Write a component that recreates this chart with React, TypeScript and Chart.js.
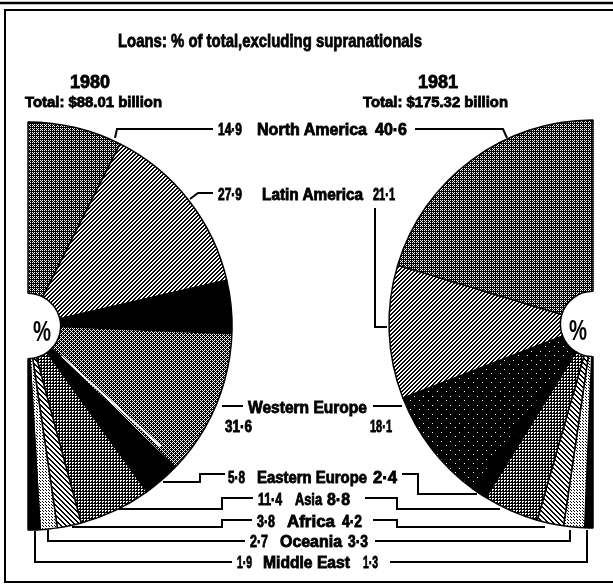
import React, { useEffect, useRef } from 'react';
import { Chart, registerables } from 'chart.js';

Chart.register(...registerables);

// ---------- data ----------
const regions = ['North America', 'Latin America', 'Western Europe', 'Eastern Europe', 'Asia', 'Africa', 'Oceania', 'Middle East'];
const share1980 = [14.9, 27.9, 31.6, 5.8, 11.4, 3.8, 2.7, 1.9];
const share1981 = [40.6, 21.1, 18.1, 2.4, 8.8, 4.2, 3.3, 1.3];
const title = 'Loans: % of total,excluding supranationals';
const years = ['1980', '1981'];
const totals = ['Total: $88.01 billion', 'Total: $175.32 billion'];

const fmt = (v: number) => v.toFixed(1).replace('.', '·');

// ---------- layout ----------
const W = 613;
const H = 587;
const R = 204;
const L_CX = 28, L_CY = 326;
const R_CX = 593, R_CY = 324;

type Pt = [number, number];

function tile(ctx: CanvasRenderingContext2D, w: number, h: number, bg: string, fg: string, pts: Pt[]) {
  const c = document.createElement('canvas');
  c.width = w; c.height = h;
  const g = c.getContext('2d')!;
  g.fillStyle = bg; g.fillRect(0, 0, w, h);
  g.fillStyle = fg;
  pts.forEach(([x, y]) => g.fillRect(x, y, 1, 1));
  return ctx.createPattern(c, 'repeat')!;
}

function stripes(ctx: CanvasRenderingContext2D, n: number, on: number, dir: number, bg: string, fg: string) {
  const pts: Pt[] = [];
  for (let y = 0; y < n; y++) for (let x = 0; x < n; x++) {
    const k = dir > 0 ? (x + y) % n : ((x - y) % n + n) % n;
    if (k < on) pts.push([x, y]);
  }
  return tile(ctx, n, n, bg, fg, pts);
}

function crossPts(n: number): Pt[] {
  const pts: Pt[] = [];
  for (let y = 0; y < n; y++) for (let x = 0; x < n; x++) {
    if (((x - y) % n + n) % n === 0 || (x + y) % n === 2) pts.push([x, y]);
  }
  return pts;
}

function wedgeTexture(ctx: CanvasRenderingContext2D, cx: number, cy: number, a0: number, a1: number) {
  const c = document.createElement('canvas');
  c.width = W; c.height = H;
  const g = c.getContext('2d')!;
  g.fillStyle = '#000'; g.fillRect(0, 0, W, H);
  const grey = tile(g, 4, 4, '#000', '#fff', crossPts(4));
  g.save();
  g.beginPath(); g.moveTo(cx, cy); g.arc(cx, cy, R + 6, a0, a1); g.closePath(); g.clip();
  g.fillStyle = grey; g.fillRect(0, 0, W, H);
  g.restore();
  const as = a1 - 0.03;
  g.strokeStyle = '#fff'; g.lineWidth = 2;
  g.beginPath();
  g.moveTo(cx + Math.cos(as) * 45, cy + Math.sin(as) * 45);
  g.lineTo(cx + Math.cos(as) * (R - 25), cy + Math.sin(as) * (R - 25));
  g.stroke();
  return ctx.createPattern(c, 'no-repeat')!;
}

function fills(ctx: CanvasRenderingContext2D, we: CanvasPattern | string) {
  const na = tile(ctx, 4, 4, '#000', '#fff', [[0, 0], [1, 1], [2, 2], [0, 2], [2, 0]]);
  const la = stripes(ctx, 4, 2, 1, '#fff', '#000');
  const asia = tile(ctx, 3, 3, '#000', '#fff', [[0, 0], [1, 0], [0, 1]]);
  const africa = stripes(ctx, 5, 2, -1, '#fff', '#000');
  const oceania = tile(ctx, 3, 3, '#fff', '#000', [[0, 0], [1, 1]]);
  return [na, la, we, '#000', asia, africa, oceania, '#000'];
}

function makeChart(canvas: HTMLCanvasElement, labels: string[], data: number[], bg: any[], rotation: number, pad: any) {
  return new Chart(canvas, {
    type: 'doughnut',
    data: {
      labels,
      datasets: [{
        data,
        backgroundColor: bg,
        borderColor: '#000',
        borderWidth: 1.5,
        rotation,
        circumference: 180,
        cutout: '16%',
        radius: R,
      } as any],
    },
    options: {
      responsive: false,
      animation: false,
      events: [],
      rotation,
      circumference: 180,
      cutout: '16%',
      radius: R,
      layout: { padding: pad },
      plugins: { legend: { display: false }, tooltip: { enabled: false }, title: { display: false } },
    } as any,
  });
}

const ROWS = [
  { y: 135, lx: 218, lw: 24, nx: 257, nw: 110, rx: 375, rw: 32 },
  { y: 200, lx: 218, lw: 24, nx: 262, nw: 101, rx: 373, rw: 22 },
  { y: 413, ny: 432, lx: 225, lw: 27, nx: 248, nw: 119, rx: 370, rw: 22 },
  { y: 483, lx: 228, lw: 17, nx: 257, nw: 110, rx: 373, rw: 24 },
  { y: 505, lx: 258, lw: 24, nx: 295, nw: 27, rx: 327, rw: 23 },
  { y: 527, lx: 257, lw: 18, nx: 287, nw: 48, rx: 342, rw: 20 },
  { y: 547, lx: 250, lw: 18, nx: 280, nw: 62, rx: 348, rw: 20 },
  { y: 568, lx: 237, lw: 15, nx: 263, nw: 87, rx: 363, rw: 15 },
];

const LEADERS = [
  '213,129 117,129 115,138', '415,129 503,129 507,138',
  '213,193 198,193 190,199', '375,208 375,327 387,327',
  '222,406 243,406', '373,406 402,406',
  '225,474 200,474 200,482 163,482', '402,474 418,474 418,494 477,494',
  '253,498 222,498 222,509 118,509', '365,498 397,498 397,509 500,509',
  '252,520 222,520 222,527 72,527', '373,520 397,520 397,527 545,527',
  '245,541 48,541 48,530', '375,541 570,541 570,530',
  '232,562 35,562 35,531', '390,562 587,562 587,530',
];

function T(props: { x: number; y: number; s: number; w: number; children: string }) {
  return (
    <text x={props.x} y={props.y} fontSize={props.s} textLength={props.w} lengthAdjust="spacingAndGlyphs"
      stroke="#000" strokeWidth={0.8}>
      {props.children}
    </text>
  );
}

export default function App() {
  const leftRef = useRef<HTMLCanvasElement>(null);
  const rightRef = useRef<HTMLCanvasElement>(null);

  useEffect(() => {
    const charts: Chart[] = [];
    const lc = leftRef.current!, rc = rightRef.current!;
    const lctx = lc.getContext('2d')!, rctx = rc.getContext('2d')!;

    const tot80 = share1980.reduce((a, b) => a + b, 0);
    const weStart = (share1980[0] + share1980[1]) / tot80;
    const weEnd = weStart + share1980[2] / tot80;
    const span = weEnd - weStart;
    const ang = (f: number) => -Math.PI / 2 + f * Math.PI;
    const we80 = wedgeTexture(lctx, L_CX, L_CY, ang(weStart + 0.27 * span), ang(weEnd));
    const we81 = tile(rctx, 9, 9, '#000', '#fff', [[0, 0], [5, 4]]);

    charts.push(makeChart(lc, regions, share1980, fills(lctx, we80), 0,
      { left: L_CX, right: W - (L_CX + R), top: L_CY - R, bottom: H - (L_CY + R) }));
    charts.push(makeChart(rc, [...regions].reverse(), [...share1981].reverse(), fills(rctx, we81).reverse(), 180,
      { left: R_CX - R, right: W - R_CX, top: R_CY - R, bottom: H - (R_CY + R) }));

    return () => charts.forEach((c) => c.destroy());
  }, []);

  return (
    <div style={{ position: 'absolute', left: 0, top: 0, width: W, height: H, background: '#fff', overflow: 'hidden' }}>
      <canvas ref={leftRef} width={W} height={H} style={{ position: 'absolute', left: 0, top: 0 }} />
      <canvas ref={rightRef} width={W} height={H} style={{ position: 'absolute', left: 0, top: 0 }} />
      <svg width={W} height={H} style={{ position: 'absolute', left: 0, top: 0 }}
        fontFamily="'Liberation Sans', Arial, Helvetica, sans-serif" fontWeight="bold" fill="#000">
        <line x1={0} y1={3} x2={W} y2={3} stroke="#000" strokeWidth={2.5} />
        <polyline points={`${W},10 5,10 5,582 ${W},582`} fill="none" stroke="#000" strokeWidth={2} />

        <T x={118} y={47} s={19} w={304}>{title}</T>
        <T x={70} y={88} s={18} w={40}>{years[0]}</T>
        <T x={418} y={88} s={18} w={40}>{years[1]}</T>
        <T x={25} y={107} s={14.5} w={137}>{totals[0]}</T>
        <T x={363} y={107} s={14.5} w={145}>{totals[1]}</T>

        {ROWS.map((r, i) => (
          <g key={i}>
            <T x={r.lx} y={(r as any).ny ?? r.y} s={16} w={r.lw}>{fmt(share1980[i])}</T>
            <T x={r.nx} y={r.y} s={16} w={r.nw}>{regions[i]}</T>
            <T x={r.rx} y={(r as any).ny ?? r.y} s={16} w={r.rw}>{fmt(share1981[i])}</T>
          </g>
        ))}

        {LEADERS.map((p, i) => (
          <polyline key={i} points={p} fill="none" stroke="#000" strokeWidth={2} />
        ))}

        <text transform={`translate(42,341) scale(1,1.4)`} fontSize={21} textAnchor="middle"
          textLength={18} lengthAdjust="spacingAndGlyphs">%</text>
        <text transform={`translate(578,340) scale(1,1.4)`} fontSize={21} textAnchor="middle"
          textLength={18} lengthAdjust="spacingAndGlyphs">%</text>
      </svg>
    </div>
  );
}
